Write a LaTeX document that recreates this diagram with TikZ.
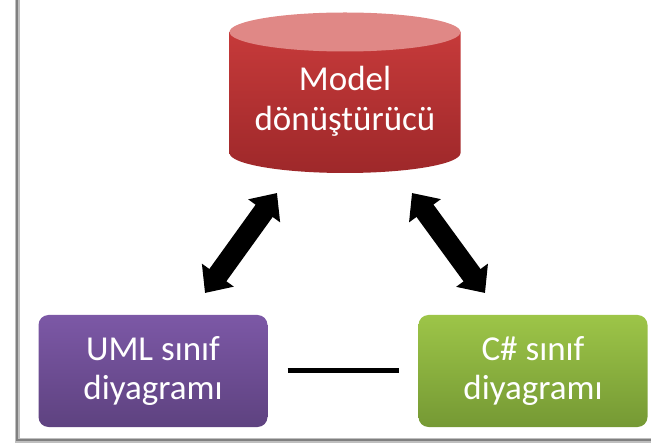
\documentclass[tikz,border=0pt]{standalone}
\usepackage{fontspec}
\setmainfont{Carlito}
\usepackage{tikz}
\usetikzlibrary{positioning, arrows.meta}

\definecolor{cylTop}{RGB}{224,136,134}
\definecolor{cylUp}{RGB}{198,58,58}
\definecolor{cylLow}{RGB}{158,40,42}
\definecolor{umlUp}{RGB}{124,88,166}
\definecolor{umlLow}{RGB}{94,66,128}
\definecolor{csUp}{RGB}{157,197,72}
\definecolor{csLow}{RGB}{117,153,52}

\tikzset{
  diagramBox/.style = {rectangle, rounded corners = 10pt, minimum width = 229pt, minimum height = 112pt,
                       text = white, align = center, font = \fontsize{35}{39}\selectfont},
  bigArrow/.style = {line width = 21pt, {Triangle[width = 38pt, length = 22pt]}-{Triangle[width = 38pt, length = 22pt]}}
}

\begin{document}
\begin{tikzpicture}[x = 1pt, y = -1pt]
        \useasboundingbox (0, 0) rectangle (651, 446);

        % frame
        \draw[color = black!25, line width = 5pt] (17, -5) -- (17, 440) -- (656, 440);
        \draw[color = black!50, line width = 2pt] (17, -5) -- (17, 440) -- (656, 440);

        % cylinder
        \shade[top color = cylUp, bottom color = cylLow] (229.5, 32) -- (229.5, 153)
            arc[start angle = 180, end angle = 0, x radius = 115.5, y radius = 20] -- (460.5, 32) -- cycle;
        \fill[color = cylTop] (345, 32) ellipse[x radius = 115.5, y radius = 19.5];
        \node[text = white, align = center, font = \fontsize{35}{40}\selectfont] (modelNode) at (345, 101) {Model\\dönüştürücü};

        \node[diagramBox, top color = umlUp, bottom color = umlLow] (umlNode) at (153, 371) {UML sınıf\\diyagramı};
        \node[diagramBox, top color = csUp, bottom color = csLow] (csNode) at (533, 371) {C\# sınıf\\diyagramı};

        \coordinate (umlTip) at (205, 293);
        \coordinate (modelLeftTip) at (277, 193);
        \coordinate (modelRightTip) at (412, 193);
        \coordinate (csTip) at (485, 293);

        \draw (umlTip) edge[bigArrow] (modelLeftTip);
        \draw (modelRightTip) edge[bigArrow] (csTip);
        \draw (umlNode) edge[line width = 5pt, shorten < = 20pt, shorten > = 19pt] (csNode);
      \end{tikzpicture}
\end{document}
